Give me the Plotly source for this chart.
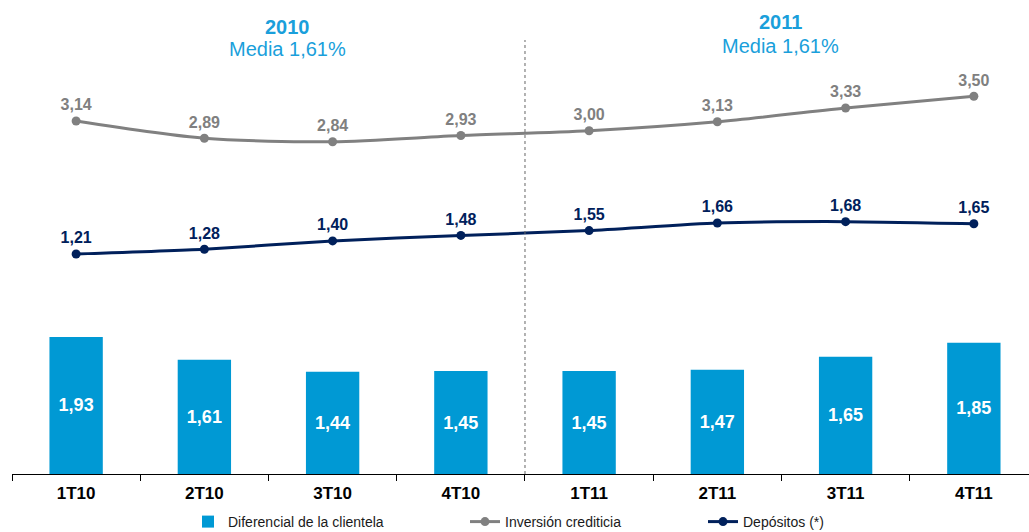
import plotly.graph_objects as go

categories = ["1T10", "2T10", "3T10", "4T10", "1T11", "2T11", "3T11", "4T11"]
diferencial = [1.93, 1.61, 1.44, 1.45, 1.45, 1.47, 1.65, 1.85]
inversion = [3.14, 2.89, 2.84, 2.93, 3.00, 3.13, 3.33, 3.50]
depositos = [1.21, 1.28, 1.40, 1.48, 1.55, 1.66, 1.68, 1.65]
year_titles = ["2010", "2011"]
year_subtitles = ["Media 1,61%", "Media 1,61%"]


def fmt(v):
    return f"{v:.2f}".replace(".", ",")


FONT = "Liberation Sans, Arial, sans-serif"
BAR_C = "#0099d4"
GRAY_C = "#808080"
NAVY_C = "#00205b"
TITLE_C = "#1a9fdb"

W, H = 1029, 532
PLOT_TOP = 0
PLOT_BOT = 474
PH = PLOT_BOT - PLOT_TOP
PLOT_L = 12
PW = W - PLOT_L


def py(p):
    return (PLOT_BOT - p) / PH


def px(p):
    return (p - PLOT_L) / PW


fig = go.Figure()
fig.add_trace(go.Bar(
    x=categories, y=diferencial, name="Diferencial de la clientela",
    marker=dict(color=BAR_C, line=dict(width=0)), width=0.416,
    text=[fmt(v) for v in diferencial], textposition="inside",
    insidetextanchor="middle",
    textfont=dict(family=FONT, size=18, color="white", weight="bold"),
    legend="legend", hoverinfo="skip",
))
fig.add_trace(go.Scatter(
    x=categories, y=inversion, name="Inversión crediticia", yaxis="y2",
    mode="lines+markers+text", line=dict(color=GRAY_C, width=3, shape="spline", smoothing=0.8),
    marker=dict(size=9, color=GRAY_C),
    text=[fmt(v) for v in inversion], textposition="top center",
    textfont=dict(family=FONT, size=16, color=GRAY_C, weight="bold"),
    legend="legend2", hoverinfo="skip",
))
fig.add_trace(go.Scatter(
    x=categories, y=depositos, name="Depósitos (*)", yaxis="y2",
    mode="lines+markers+text", line=dict(color=NAVY_C, width=3, shape="spline", smoothing=0.6),
    marker=dict(size=9, color=NAVY_C),
    text=[fmt(v) for v in depositos], textposition="top center",
    textfont=dict(family=FONT, size=16, color=NAVY_C, weight="bold"),
    legend="legend3", hoverinfo="skip",
))

# titles
title_pos = [(1.65, 27, 49), (5.49, 22, 46)]
for (xc, yt, ys), t, s in zip(title_pos, year_titles, year_subtitles):
    fig.add_annotation(x=xc, xref="x", y=py(yt), yref="paper", text=f"<b>{t}</b>",
                       showarrow=False, font=dict(family=FONT, size=20, color=TITLE_C),
                       yanchor="middle")
    fig.add_annotation(x=xc, xref="x", y=py(ys), yref="paper", text=s,
                       showarrow=False, font=dict(family=FONT, size=20, color=TITLE_C),
                       yanchor="middle")

fig.add_shape(type="line", x0=3.5, x1=3.5, xref="x", y0=0, y1=py(40), yref="paper",
              line=dict(color="#666666", width=1, dash="3px,3px"))

legend_common = dict(orientation="h", yanchor="middle", y=py(522), xanchor="left",
                     font=dict(family=FONT, size=14, color="#1a1a1a"),
                     bgcolor="rgba(0,0,0,0)")
line_zero = 337.4
scale = 68.9
fig.update_layout(
    width=W, height=H,
    margin=dict(l=PLOT_L, r=0, t=PLOT_TOP, b=H - PLOT_BOT, autoexpand=False),
    paper_bgcolor="white", plot_bgcolor="white",
    font=dict(family=FONT),
    xaxis=dict(type="category", range=[-0.5, 7.43], showgrid=False,
               showline=True, linecolor="black", linewidth=1,
               ticks="outside", tickson="boundaries", ticklen=6, tickcolor="black",
               ticklabelstandoff=4, automargin=False,
               tickfont=dict(family=FONT, size=17, color="black", weight="bold")),
    yaxis=dict(range=[0, PH / 71], visible=False, showgrid=False),
    yaxis2=dict(range=[-(PLOT_BOT - line_zero) / scale, (line_zero - PLOT_TOP) / scale],
                overlaying="y", visible=False, showgrid=False),
    legend=dict(x=px(188), **legend_common),
    legend2=dict(x=px(465), **legend_common),
    legend3=dict(x=px(703), **legend_common),
    showlegend=True,
)

fig.write_html("out.html", config={"displayModeBar": False},
               post_script="document.body.style.margin='0';document.body.style.overflow='hidden';")
